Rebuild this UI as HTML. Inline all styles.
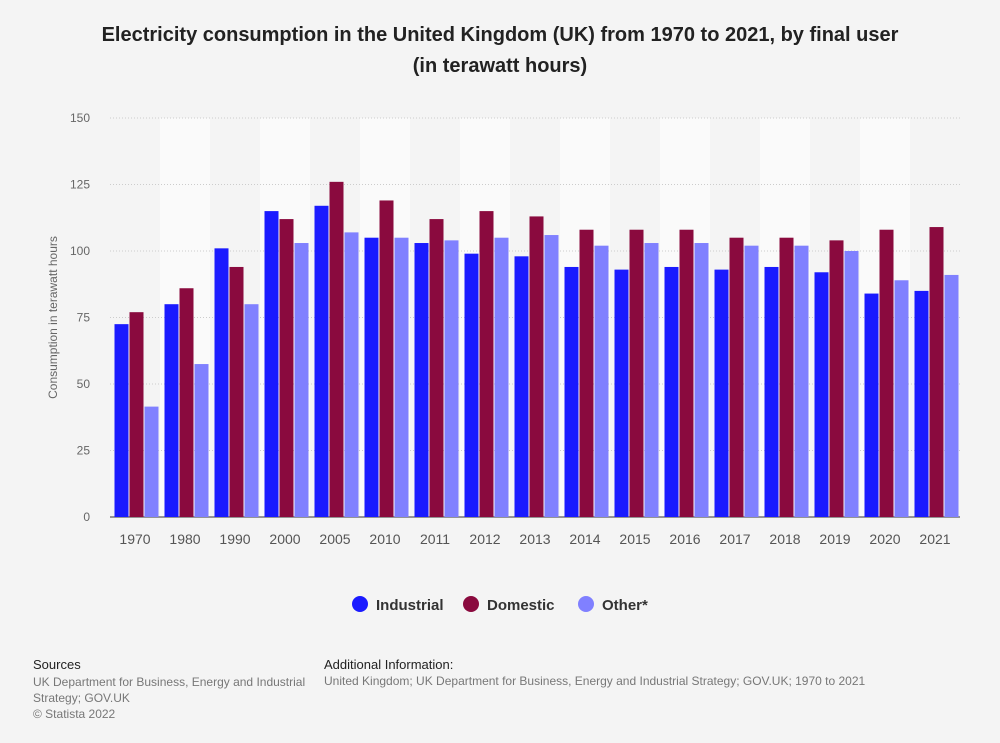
<!DOCTYPE html>
<html><head><meta charset="utf-8"><style>
body{margin:0;background:#f4f4f4;font-family:"Liberation Sans",Arial,sans-serif;}
#wrap{position:relative;width:1000px;height:743px;}
.t{position:absolute;white-space:nowrap;}
</style></head><body>
<div id="wrap">
<div class="t" style="left:0;width:1000px;top:20px;text-align:center;font-size:20px;font-weight:bold;line-height:31px;color:#222">Electricity consumption in the United Kingdom (UK) from 1970 to 2021, by final user<br>(in terawatt hours)</div>
<svg id="chart" width="1000" height="743" style="position:absolute;left:0;top:0"></svg>
<div class="t" style="left:33px;top:657px;font-size:13px;color:#222">Sources</div>
<div class="t" style="left:33px;top:674px;font-size:12px;color:#777;line-height:16px">UK Department for Business, Energy and Industrial<br>Strategy; GOV.UK<br>© Statista 2022</div>
<div class="t" style="left:324px;top:657px;font-size:13px;color:#222">Additional Information:</div>
<div class="t" style="left:324px;top:674px;font-size:12px;color:#777">United Kingdom; UK Department for Business, Energy and Industrial Strategy; GOV.UK; 1970 to 2021</div>
</div>
<script>
const categories=["1970","1980","1990","2000","2005","2010","2011","2012","2013","2014","2015","2016","2017","2018","2019","2020","2021"];
const industrial=[72.5,80,101,115,117,105,103,99,98,94,93,94,93,94,92,84,85];
const domestic=[77,86,94,112,126,119,112,115,113,108,108,108,105,105,104,108,109];
const other=[41.5,57.5,80,103,107,105,104,105,106,102,103,103,102,102,100,89,91];
const yTicks=[0,25,50,75,100,125,150];
const seriesNames=["Industrial","Domestic","Other*"];
const colors=["#1a1aff","#8a0a3e","#8080ff"];
const svg=document.getElementById('chart');const NS="http://www.w3.org/2000/svg";
const x0=110,x1=960,yTop=118,yBot=517,yMax=150;
const bw=(x1-x0)/categories.length;
const y=v=>yBot-(v/yMax)*(yBot-yTop);
const xc=i=>x0+bw*i+bw/2;
function mk(tag,a){const e=document.createElementNS(NS,tag);for(const k in a)e.setAttribute(k,a[k]);svg.appendChild(e);return e;}
categories.forEach((c,i)=>{if(i%2==1){const r=mk('rect',{x:x0+bw*i,y:yTop,width:bw,height:yBot-yTop,fill:'#fafafa'});

}});
yTicks.forEach(t=>{if(t>0){const l=mk('line',{x1:x0,x2:x1,y1:y(t),y2:y(t),stroke:'#ccc','stroke-dasharray':'1,2'});

}
const tx=mk('text',{x:90,y:y(t)+4,'text-anchor':'end','font-size':12,fill:'#666'});tx.textContent=t;

});
const ax=mk('line',{x1:x0,x2:x1,y1:yBot,y2:yBot,stroke:'#333','stroke-width':1});


const yt=mk('text',{x:0,y:0,transform:`translate(57,${(yTop+yBot)/2}) rotate(-90)`,'text-anchor':'middle','font-size':12,fill:'#666'});yt.textContent='Consumption in terawatt hours';


const series=[industrial,domestic,other];const barW=14,gap=1;
categories.forEach((c,i)=>{series.forEach((s,j)=>{const bx=xc(i)+1.5-(3*barW+2*gap)/2+j*(barW+gap);
const r=mk('rect',{x:bx,y:y(s[i]),width:barW,height:yBot-y(s[i]),fill:colors[j]});

});
const tx=mk('text',{x:xc(i),y:544,'text-anchor':'middle','font-size':14,fill:'#555'});tx.textContent=c;

});
const lx=[360,471,586];
seriesNames.forEach((n,j)=>{const g=document.createElementNS(NS,'g');svg.appendChild(g);


const c=document.createElementNS(NS,'circle');c.setAttribute('cx',lx[j]);c.setAttribute('cy',604);c.setAttribute('r',8);c.setAttribute('fill',colors[j]);g.appendChild(c);
const t=document.createElementNS(NS,'text');t.setAttribute('x',lx[j]+16);t.setAttribute('y',610);t.setAttribute('font-size',15);t.setAttribute('font-weight','bold');t.setAttribute('fill','#333');t.textContent=n;g.appendChild(t);});
</script>
</body></html>
